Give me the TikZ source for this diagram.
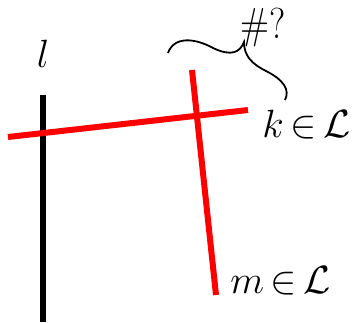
\documentclass[tikz,border=0pt]{standalone}
\begin{document}
\begin{tikzpicture}[x=1pt,y=-1pt,
  redline/.style={draw=red,line width=6pt},
  blackline/.style={draw=black,line width=6pt},
  lbl/.style={inner sep=0pt,font=\huge,scale=1.9,transform shape},
  bracestyle/.style={draw=black,line width=1.8pt}]
\useasboundingbox (0,0) rectangle (354,322);
% line l
\coordinate (lt) at (43,95);
\coordinate (lb) at (43,322);
\draw[blackline] (lt) -- (lb);
% line k
\coordinate (kl) at (8,137);
\coordinate (kr) at (248,110);
\draw[redline] (kl) -- (kr);
% line m
\coordinate (mt) at (192,70);
\coordinate (mb) at (216,295);
\draw[redline] (mt) -- (mb);
% labels
\node[lbl,anchor=base] (llab) at (43,67) {$l$};
\node[lbl,anchor=base west] (klab) at (262,137) {$k\mkern-2mu\in\mkern-2mu\mathcal{L}$};
\node[lbl,anchor=base west] (mlab) at (230,293) {$m\mkern-2mu\in\mkern-2mu\mathcal{L}$};
\node[lbl,xscale=0.95,yscale=1.1,anchor=base] (q) at (263,38) {\#?};
% brace
\coordinate (b0) at (168,53);
\coordinate (btip) at (244,42);
\coordinate (b1) at (285,100);
\draw[bracestyle] (b0) .. controls (174,36) and (195,38) .. (213,48)
  .. controls (232,57) and (240,52) .. (btip)
  .. controls (244,56) and (252,64) .. (266,71)
  .. controls (284,80) and (290,90) .. (b1);
\end{tikzpicture}
\end{document}
